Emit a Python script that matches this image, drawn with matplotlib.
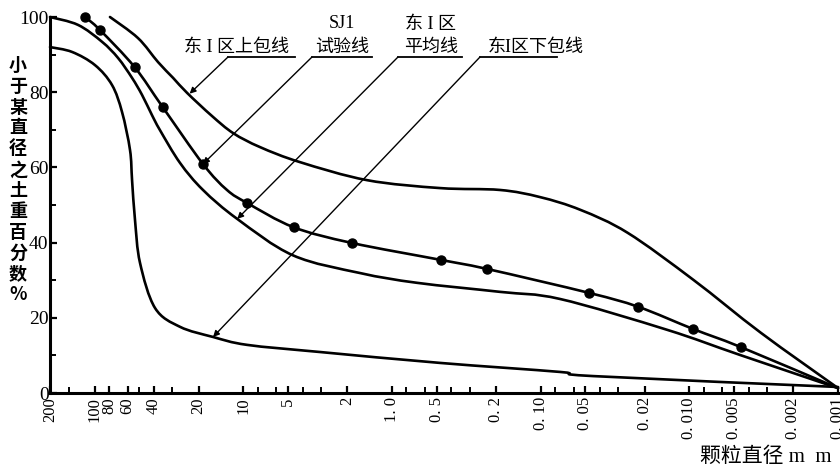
import matplotlib
matplotlib.use("Agg")
import numpy as np
import matplotlib.pyplot as plt
from matplotlib.lines import Line2D
from matplotlib.path import Path
from matplotlib.patches import PathPatch
from matplotlib.ticker import FixedLocator, NullFormatter

# ---------------- data ----------------
upper_d = [79, 51.2, 37.5, 29.7, 23.9, 16.3, 11.7, 7.73, 4.16, 1.47, 0.475, 0.188,
           0.101, 0.054, 0.026, 0.0094, 0.0033, 0.001]
upper_pct = [100, 94.4, 88.0, 83.8, 79.8, 73.7, 69.1, 65.4, 61.4, 56.6, 54.5, 54.0,
             52.1, 48.7, 42.6, 30.1, 16.0, 1.3]

test_d = [116, 92, 54, 35, 18.7, 12.9, 9.4, 4.6, 1.86, 0.47, 0.23, 0.047,
          0.022, 0.0094, 0.0045, 0.001]
test_pct = [100, 96.5, 86.7, 76.1, 60.9, 54.0, 50.5, 44.1, 39.9, 35.4, 33.0, 26.6,
            22.9, 17.0, 12.2, 1.3]
test_marked = [0, 1, 2, 3, 4, 6, 7, 8, 9, 10, 11, 12, 13, 14]

avg_d = [200, 129.6, 89.3, 69.7, 56.1, 48.1, 41.2, 36.4, 26.7, 18.7, 11.0,
         4.63, 1.64, 0.678, 0.188, 0.074, 0.0141, 0.00455, 0.001]
avg_pct = [100, 97.9, 93.4, 89.1, 83.8, 79.3, 73.9, 69.9, 61.2, 54.0, 46.3,
           36.6, 31.9, 29.3, 26.9, 25.0, 16.8, 10.1, 1.3]

lower_d = [200, 142, 99.6, 76.5, 65.5, 57.9, 56.1, 53.6, 49.6, 39.3, 26.7, 16.0,
           9.44, 3.05, 0.475, 0.074, 0.0444, 0.001]
lower_pct = [92.0, 90.7, 87.2, 81.9, 74.7, 64.6, 56.6, 46.0, 34.6, 22.6, 17.6, 14.9,
             12.8, 10.9, 8.0, 5.6, 4.5, 1.6]

x_ticks = [200, 100, 80, 60, 40, 20, 10, 5, 2, 1.0, 0.5, 0.2, 0.10, 0.05, 0.02,
           0.010, 0.005, 0.002, 0.001]
x_labels = ["200", "100", "80", "60", "40", "20", "10", "5", "2", "1. 0", "0. 5",
            "0. 2", "0. 10", "0. 05", "0. 02", "0. 010", "0. 005", "0. 002", "0. 001"]
x_minor = [150, 50, 30, 8, 6, 4, 3, 0.8, 0.6, 0.4, 0.3, 0.08, 0.06, 0.04, 0.03,
           0.008, 0.006, 0.004, 0.003]
y_ticks = [0, 20, 40, 60, 80, 100]
y_minor = [10, 30, 50, 70, 90]

ylabel_text = "小于某直径之土重百分数%"
xlabel_text = "颗粒直径 m  m"

# annotation labels: (text, target d, target pct)
ann_upper = ("东 I 区上包线", 23.0, 79.6)
ann_test = ("SJ1\n试验线", 18.7, 60.9)
ann_avg = ("东 I 区\n平均线", 11.0, 46.3)
ann_lower = ("东I区下包线", 16.0, 14.9)

# ---------------- figure ----------------
W, H = 840, 472
fig = plt.figure(figsize=(W / 100, H / 100), dpi=100)
ax = fig.add_axes([50 / W, 1 - 393 / H, 788 / W, 376 / H])
ax.set_xscale("log")
ax.set_xlim(200, 0.001)
ax.set_ylim(0, 100)

mixed = ["Liberation Serif", "Noto Sans CJK SC", "DejaVu Sans"]
cjk = ["Noto Sans CJK SC", "DejaVu Sans"]

lw = 1.9


def smooth_curve(xs, ys):
    """Draw a smooth (Catmull-Rom as cubic Bezier) curve through the data points."""
    to_axes = ax.transData + ax.transAxes.inverted()
    P = to_axes.transform(np.column_stack([xs, ys]))
    n = len(P)
    verts = [P[0]]
    codes = [Path.MOVETO]
    for i in range(n - 1):
        p0 = P[i - 1] if i > 0 else P[i]
        p1, p2 = P[i], P[i + 1]
        p3 = P[i + 2] if i + 2 < n else P[i + 1]
        c1 = p1 + (p2 - p0) / 6.0
        c2 = p2 - (p3 - p1) / 6.0
        verts += [c1, c2, p2]
        codes += [Path.CURVE4] * 3
    patch = PathPatch(Path(verts, codes), facecolor="none", edgecolor="black",
                      lw=lw, transform=ax.transAxes, clip_on=False,
                      capstyle="round", joinstyle="round")
    ax.add_patch(patch)


smooth_curve(upper_d, upper_pct)
smooth_curve(avg_d, avg_pct)
smooth_curve(lower_d, lower_pct)
smooth_curve(test_d, test_pct)
ax.plot([test_d[i] for i in test_marked], [test_pct[i] for i in test_marked],
        linestyle="none", marker="o", ms=6.5, color="black", clip_on=False)

for s in ["top", "right"]:
    ax.spines[s].set_visible(False)
for s in ["left", "bottom"]:
    ax.spines[s].set_linewidth(2.2)

ax.xaxis.set_major_locator(FixedLocator(x_ticks))
ax.set_xticklabels(x_labels, family="Liberation Serif", fontsize=12, rotation=90)
ax.xaxis.set_minor_locator(FixedLocator(x_minor))
ax.xaxis.set_minor_formatter(NullFormatter())
ax.set_yticks(y_ticks)
ax.set_yticklabels([str(v) for v in y_ticks], family="Liberation Serif", fontsize=14)
ax.yaxis.set_minor_locator(FixedLocator(y_minor))

ax.tick_params(axis="both", which="major", direction="in", length=5, width=1.6, pad=3)
ax.tick_params(axis="both", which="minor", direction="in", length=4, width=1.4)
ax.tick_params(axis="y", which="major", pad=1)

# y label (stacked characters)
fig.text(18 / W, 1 - 180 / H, "\n".join(ylabel_text), family=cjk, fontsize=13,
         fontweight="bold", ha="center", va="center", linespacing=1.12)
# x label
fig.text(700 / W, 1 - 457 / H, xlabel_text, family=mixed, fontsize=15,
         ha="left", va="center")


def leader(label, td, tp, x_left, x_right, text_x, text_y):
    y_line = H - 57
    ax.annotate("", xy=(td, tp), xycoords="data",
                xytext=(x_left, y_line), textcoords="figure pixels",
                arrowprops=dict(arrowstyle="-|>", color="black", lw=1.0,
                                mutation_scale=9, shrinkA=0, shrinkB=0))
    fig.add_artist(Line2D([x_left / W, x_right / W], [y_line / H, y_line / H],
                          transform=fig.transFigure, color="black", lw=1.3))
    fig.text(text_x / W, 1 - text_y / H, label, family=mixed, fontsize=13,
             ha="center", va="bottom", linespacing=1.5)


leader(ann_upper[0], ann_upper[1], ann_upper[2], 228, 295, 236, 56)
leader(ann_test[0], ann_test[1], ann_test[2], 312, 372, 342, 56)
leader(ann_avg[0], ann_avg[1], ann_avg[2], 398, 462, 431, 56)
leader(ann_lower[0], ann_lower[1], ann_lower[2], 480, 557, 536, 56)

fig.savefig("out.png", dpi=100)
